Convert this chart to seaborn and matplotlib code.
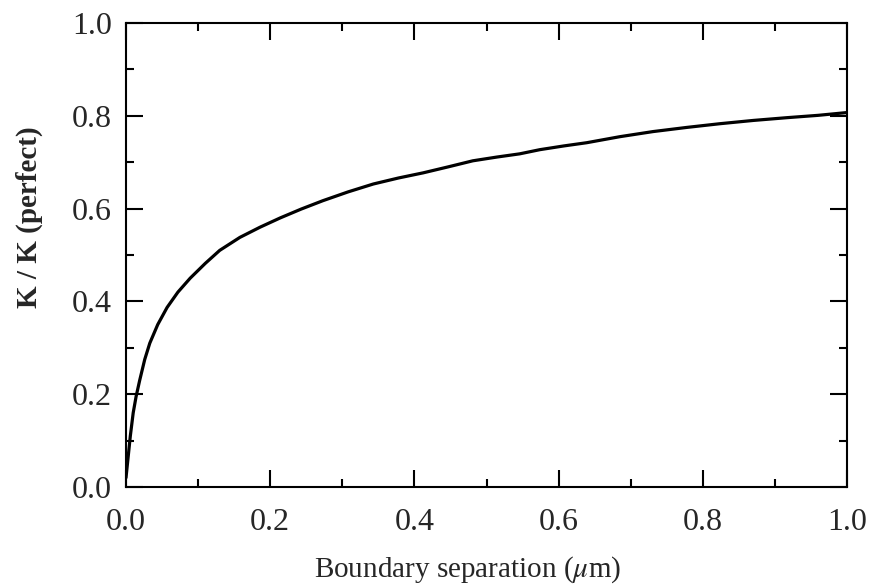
import matplotlib
matplotlib.use("Agg")
import matplotlib.pyplot as plt
import seaborn as sns
import pandas as pd
from matplotlib.ticker import MultipleLocator

separation = [0.0, 0.002, 0.004, 0.006, 0.010, 0.014, 0.019, 0.026, 0.033, 0.044,
              0.057, 0.072, 0.089, 0.110, 0.130, 0.158, 0.186, 0.214, 0.243, 0.273,
              0.308, 0.343, 0.378, 0.412, 0.447, 0.481, 0.514, 0.546, 0.574, 0.607,
              0.639, 0.685, 0.731, 0.778, 0.824, 0.870, 0.917, 0.960, 1.0]
k_ratio = [0.02, 0.05, 0.08, 0.11, 0.16, 0.195, 0.23, 0.275, 0.31, 0.35,
           0.387, 0.42, 0.45, 0.482, 0.51, 0.538, 0.56, 0.58, 0.599, 0.617,
           0.636, 0.653, 0.666, 0.677, 0.690, 0.703, 0.711, 0.718, 0.727, 0.735,
           0.742, 0.755, 0.766, 0.775, 0.783, 0.790, 0.796, 0.801, 0.807]
x_ticks = [0.0, 0.2, 0.4, 0.6, 0.8, 1.0]
y_ticks = [0.0, 0.2, 0.4, 0.6, 0.8, 1.0]

sns.set_style("ticks")
plt.rcParams['font.family'] = ['Liberation Serif', 'DejaVu Serif']
plt.rcParams['mathtext.fontset'] = 'stix'

df = pd.DataFrame({"x": separation, "y": k_ratio})

fig = plt.figure(figsize=(8.73, 5.86), dpi=100)
ax = fig.add_axes([126/873, 1-487/586, (847-126)/873, (487-23)/586])
sns.lineplot(data=df, x="x", y="y", ax=ax, color="black", linewidth=2.3)

ax.set_xlim(0, 1.0)
ax.set_ylim(0, 1.0)
ax.set_xticks(x_ticks)
ax.set_yticks(y_ticks)
ax.set_xticklabels([f"{t:.1f}" for t in x_ticks])
ax.set_yticklabels([f"{t:.1f}" for t in y_ticks])
ax.xaxis.set_minor_locator(MultipleLocator(0.1))
ax.yaxis.set_minor_locator(MultipleLocator(0.1))
ax.tick_params(which="both", direction="in", top=True, right=True, width=1.5, color="black")
ax.tick_params(which="major", length=12)
ax.tick_params(which="minor", length=6)
ax.tick_params(axis="x", which="major", labelsize=23, pad=15)
ax.tick_params(axis="y", which="major", labelsize=23, pad=10)
for s in ax.spines.values():
    s.set_linewidth(1.5)
    s.set_color("black")

ax.set_xlabel(r"Boundary separation ($\mu$m)", fontsize=21)
ax.set_ylabel("K / K (perfect)", fontsize=21, fontweight="bold")
ax.xaxis.set_label_coords((468-126)/721, -(554-487)/464)
ax.yaxis.set_label_coords(-(126-43)/721, (487-217)/464)

fig.savefig("out.png", dpi=100, facecolor="white")
